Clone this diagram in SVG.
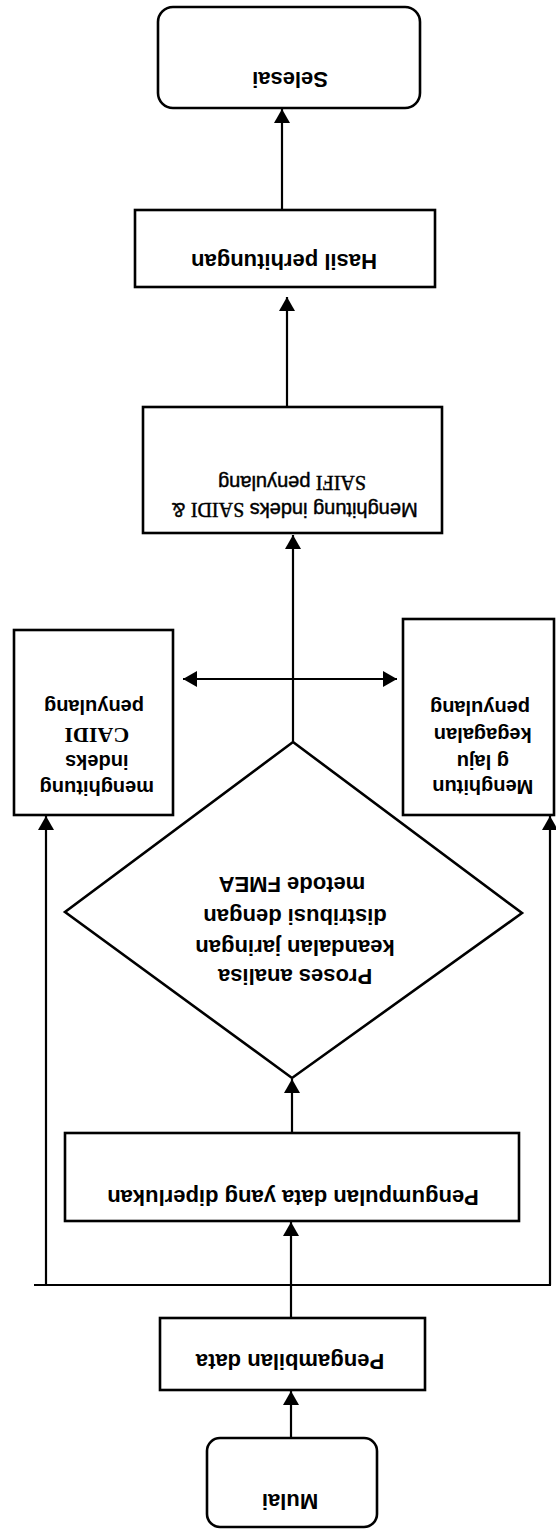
<svg xmlns="http://www.w3.org/2000/svg" width="556" height="1531" viewBox="0 0 556 1531">
<style>
.box{fill:#fff;stroke:#000;stroke-width:2.6}
.ln{fill:none;stroke:#000;stroke-width:2.2}
.t{font-family:"Liberation Sans",Arial,sans-serif;font-weight:bold;font-size:22px;text-anchor:middle;fill:#000}
.s20{font-size:20px}
.nw{font-weight:normal;stroke:#000;stroke-width:0.45}
.serif{font-family:"Liberation Serif","Times New Roman",serif}
</style>
<defs>
<marker id="ah" viewBox="0 0 14 16" refX="14" refY="8" markerWidth="14" markerHeight="16" markerUnits="userSpaceOnUse" orient="auto-start-reverse">
<path d="M0,0 L14,8 L0,16 Z" fill="#000"/>
</marker>
</defs>
<rect width="556" height="1531" fill="#fff"/>

<g id="connectors">
<line class="ln" x1="291" y1="1438" x2="291" y2="1391" marker-end="url(#ah)"/>
<line class="ln" x1="291" y1="1318" x2="291" y2="1222" marker-end="url(#ah)"/>
<line class="ln" x1="34" y1="1285" x2="551" y2="1285"/>
<line class="ln" x1="46" y1="1285" x2="46" y2="816" marker-end="url(#ah)"/>
<line class="ln" x1="550" y1="1285" x2="550" y2="816" marker-end="url(#ah)"/>
<line class="ln" x1="292" y1="1133" x2="292" y2="1079" marker-end="url(#ah)"/>
<line class="ln" x1="293" y1="753" x2="293" y2="535" marker-end="url(#ah)"/>
<line class="ln" x1="183" y1="679" x2="397" y2="679" marker-start="url(#ah)" marker-end="url(#ah)"/>
<line class="ln" x1="287" y1="407" x2="287" y2="297" marker-end="url(#ah)"/>
<line class="ln" x1="282" y1="210" x2="282" y2="109" marker-end="url(#ah)"/>
</g>

<g id="selesai">
<rect class="box" x="158" y="7" width="262" height="101" rx="15"/>
<text class="t" x="290" y="87.7" transform="rotate(180 290 80)">Selesai</text>
</g>

<g id="hasil">
<rect class="box" x="135" y="210" width="300" height="77"/>
<text class="t" x="284" y="269.7" transform="rotate(180 284 262)">Hasil perhitungan</text>
</g>

<g id="saidi">
<rect class="box" x="143" y="407" width="299" height="126"/>
<text class="t s20 nw" transform="rotate(180 292 496.5)">
<tspan x="292" y="490">Menghitung indeks <tspan class="serif">SAIDI</tspan> &amp;</tspan>
<tspan x="292" y="517"><tspan class="serif">SAIFI</tspan> penyulang</tspan>
</text>
</g>

<g id="caidi">
<rect class="box" x="14" y="630" width="159" height="185"/>
<text class="t s20" transform="rotate(180 94 747.5)">
<tspan x="94" y="714">menghitung</tspan>
<tspan x="94" y="740">indeks</tspan>
<tspan x="94" y="767" class="serif" style="font-size:22px">CAIDI</tspan>
<tspan x="94" y="795">penyulang</tspan>
</text>
</g>

<g id="laju">
<rect class="box" x="403" y="619" width="151" height="196"/>
<text class="t s20" transform="rotate(180 480 747.5)">
<tspan x="480" y="715">Menghitun</tspan>
<tspan x="480" y="740">g laju</tspan>
<tspan x="480" y="767">kegagalan</tspan>
<tspan x="480" y="794">penyulang</tspan>
</text>
</g>

<g id="fmea">
<polygon class="box" points="293,742 522,913 292,1078 65,912"/>
<text class="t" transform="rotate(180 292 931)">
<tspan x="292" y="892.7">Proses analisa</tspan>
<tspan x="292" y="921.7">keandalan jaringan</tspan>
<tspan x="292" y="952.7">distribusi dengan</tspan>
<tspan x="292" y="984.7">metode FMEA</tspan>
</text>
</g>

<g id="pengumpulan">
<rect class="box" x="65" y="1133" width="454" height="88"/>
<text class="t" x="293" y="1205.7" transform="rotate(180 293 1198)">Pengumpulan data yang diperlukan</text>
</g>

<g id="pengambilan">
<rect class="box" x="160" y="1318" width="265" height="72"/>
<text class="t" x="290" y="1369.7" transform="rotate(180 290 1362)">Pengambilan data</text>
</g>

<g id="mulai">
<rect class="box" x="207" y="1438" width="170" height="89" rx="13"/>
<text class="t" x="290" y="1509.7" transform="rotate(180 290 1502)">Mulai</text>
</g>
</svg>
